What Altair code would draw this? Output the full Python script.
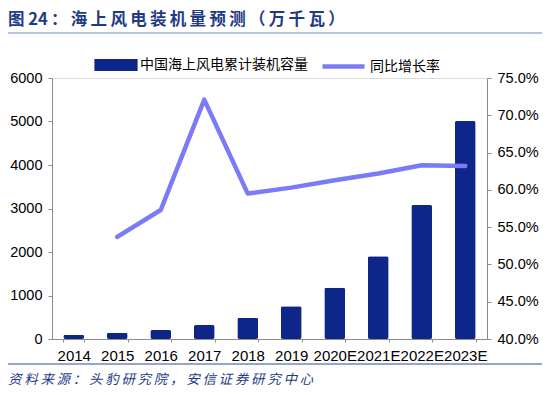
import altair as alt
import pandas as pd

years = ["2014", "2015", "2016", "2017", "2018", "2019", "2020E", "2021E", "2022E", "2023E"]
capacity = [99, 145, 207, 322, 490, 751, 1180, 1900, 3080, 5010]
growth_years = ["2015", "2016", "2017", "2018", "2019", "2020E", "2021E", "2022E", "2023E"]
growth = [0.537, 0.573, 0.721, 0.595, 0.603, 0.613, 0.622, 0.633, 0.632]

bar_name = "中国海上风电累计装机容量"
line_name = "同比增长率"
title_text = "图 24：海上风电装机量预测（万千瓦）"
source_text = "资料来源：头豹研究院，安信证券研究中心"

left_ticks = [0, 1000, 2000, 3000, 4000, 5000, 6000]
right_ticks = [0.40, 0.45, 0.50, 0.55, 0.60, 0.65, 0.70, 0.75]

BAR_C = "#0E2689"
LINE_C = "#7B7BF7"
TITLE_C = "#1F3A86"
AX_C = "#8C8C8C"
FONT = "Liberation Sans"
CJK = "Noto Sans CJK SC"
TS = "\u2009"


def spaced(s):
    out = []
    for i, ch in enumerate(s):
        out.append(ch)
        if i < len(s) - 1 and not (ch.isdigit() and s[i + 1].isdigit()) and ch != " " and s[i + 1] != " ":
            out.append(TS)
    return "".join(out)


bar_df = pd.DataFrame({"year": years, "cap": capacity, "s": bar_name})
line_df = pd.DataFrame({"year": growth_years, "g": growth, "s": line_name})
one = pd.DataFrame({"t": [0]})

xenc = alt.X("year:N", sort=years, title=None,
             scale=alt.Scale(paddingInner=0.52, paddingOuter=0.26),
             axis=alt.Axis(labelAngle=0, labelFont=FONT, labelFontSize=15, labelColor="#000000",
                           domainColor=AX_C, tickColor=AX_C, tickSize=3, bandPosition=0,
                           tickBand="extent", labelPadding=6, labelOverlap=False))

bars = alt.Chart(bar_df).mark_bar(cornerRadius=2).encode(
    x=xenc,
    y=alt.Y("cap:Q", title=None, scale=alt.Scale(domain=[0, 6000], nice=False),
            axis=alt.Axis(values=left_ticks, labelFont=FONT, labelFontSize=14.5, labelColor="#000000",
                          domainColor=AX_C, tickColor=AX_C, tickSize=4, grid=False, labelPadding=6,
                          format="d")),
    fill=alt.Fill("s:N", scale=alt.Scale(domain=[bar_name], range=[BAR_C]),
                  legend=alt.Legend(title=None, orient="none", legendX=57, legendY=-20,
                                    symbolType="M-3.6,-1H3.6V1H-3.6Z", symbolSize=144,
                                    symbolStrokeWidth=0, labelFont=CJK, labelFontSize=14,
                                    labelColor="#000000", labelOffset=17, labelLimit=400, padding=0)),
)

line = alt.Chart(line_df).mark_line(strokeWidth=4.5, strokeJoin="round", strokeCap="round").encode(
    x=alt.X("year:N", sort=years),
    y=alt.Y("g:Q", title=None, scale=alt.Scale(domain=[0.40, 0.75], nice=False),
            axis=alt.Axis(orient="right", values=right_ticks, format=".1%", labelFont=FONT,
                          labelFontSize=14.5, labelColor="#000000", domainColor=AX_C,
                          tickColor=AX_C, tickSize=4, grid=False, labelPadding=6)),
    stroke=alt.Stroke("s:N", scale=alt.Scale(domain=[line_name], range=[LINE_C]),
                      legend=alt.Legend(title=None, orient="none", legendX=283, legendY=-20,
                                        symbolType="M-3.5,0H3.5", symbolSize=144,
                                        symbolStrokeWidth=4.5, labelFont=CJK, labelFontSize=14,
                                        labelColor="#000000", labelOffset=18, labelLimit=400,
                                        padding=0)),
)

title = alt.Chart(one).mark_text(align="left", baseline="middle", font=CJK, fontSize=16.5,
                                 fontWeight="bold", color=TITLE_C).encode(
    x=alt.value(-44), y=alt.value(-58), text=alt.value(spaced(title_text)))

rule_top = alt.Chart(one).mark_rule(color="#9FB0D6", strokeWidth=1.5).encode(
    x=alt.value(-44), x2=alt.value(490), y=alt.value(-45))
rule_bot = alt.Chart(one).mark_rule(color="#2B4A9A", strokeWidth=1).encode(
    x=alt.value(-44), x2=alt.value(490), y=alt.value(286))

source = alt.Chart(one).mark_text(align="left", baseline="middle", font=CJK, fontSize=13.5,
                                  fontStyle="italic", color=TITLE_C).encode(
    x=alt.value(-44), y=alt.value(302), text=alt.value(spaced(source_text)))

chart = alt.layer(bars, line, title, rule_top, rule_bot, source).resolve_scale(
    y="independent", fill="independent", stroke="independent"
).properties(
    width=435, height=261,
    autosize=alt.AutoSizeParams(type="none"),
    padding={"left": 44, "top": 70, "right": 55, "bottom": 48},
).configure_view(stroke=None).configure(background="#ffffff")

chart.save("out.html", embed_options={"renderer": "svg", "actions": False})
